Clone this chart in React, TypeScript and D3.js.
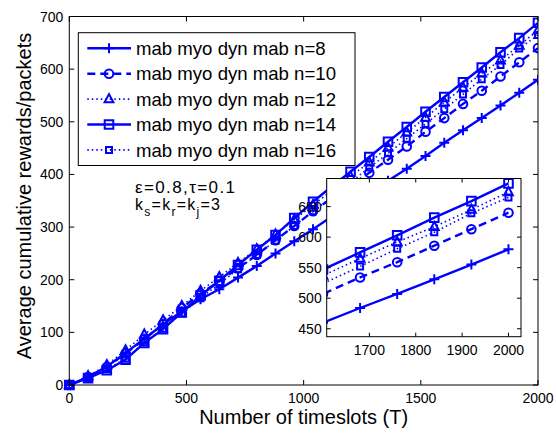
import React, { useEffect, useRef } from 'react';
import * as d3 from 'd3';

// Timeslots at which each curve is sampled / marked
const timeslots = [0, 80, 160, 240, 320, 400, 480, 560, 640, 720, 800, 880, 960, 1040, 1120, 1200, 1280, 1360, 1440, 1520, 1600, 1680, 1760, 1840, 1920, 2000];

// Average cumulative rewards for each number of channels n
const rewardsN8 = [0, 15, 35, 61, 88, 115, 140, 163, 182, 204, 226, 250, 273, 296, 320, 343, 366, 388, 411, 435, 460, 484, 507, 531, 555, 580];
const rewardsN10 = [0, 15, 34, 60, 87, 116, 146, 174, 197, 222, 247, 275, 302, 330, 355, 379, 403, 428, 453, 481, 507, 534, 559, 586, 613, 640];
const rewardsN12 = [0, 17, 38, 66, 96, 123, 150, 179, 205, 232, 258, 286, 314, 342, 369, 396, 423, 451, 480, 508, 537, 565, 592, 617, 645, 674];
const rewardsN14 = [0, 13, 28, 48, 80, 106, 138, 170, 198, 228, 257, 285, 317, 348, 377, 405, 433, 462, 490, 519, 547, 575, 603, 632, 659, 688];
const rewardsN16 = [0, 14, 30, 50, 81, 107, 136, 165, 192, 220, 247, 274, 302, 330, 357, 385, 413, 440, 468, 496, 524, 552, 581, 608, 639, 665];

const legendLabels = [
  'mab myo dyn mab n=8',
  'mab myo dyn mab n=10',
  'mab myo dyn mab n=12',
  'mab myo dyn mab n=14',
  'mab myo dyn mab n=16',
];

const xTicks = [0, 500, 1000, 1500, 2000];
const yTicks = [0, 100, 200, 300, 400, 500, 600, 700];
const insetXTicks = [1700, 1800, 1900, 2000];
const insetYTicks = [450, 500, 550, 600, 650];

const BLUE = '#0000ff';
const FONT = '"Liberation Sans", Arial, Helvetica, sans-serif';

type MarkerKind = 'plus' | 'circle' | 'triangle' | 'square' | 'smallsquare';

const styles: { values: number[]; dash: string | null; width: number; marker: MarkerKind }[] = [
  { values: rewardsN8, dash: null, width: 2.4, marker: 'plus' },
  { values: rewardsN10, dash: '8,5', width: 2.4, marker: 'circle' },
  { values: rewardsN12, dash: '1.5,3', width: 1.6, marker: 'triangle' },
  { values: rewardsN14, dash: null, width: 2.4, marker: 'square' },
  { values: rewardsN16, dash: '1.5,3', width: 1.6, marker: 'smallsquare' },
];

function markerPath(kind: MarkerKind): string {
  switch (kind) {
    case 'plus':
      return 'M-5,0L5,0M0,-5L0,5';
    case 'circle':
      return 'M4.3,0A4.3,4.3 0 1,1 -4.3,0A4.3,4.3 0 1,1 4.3,0Z';
    case 'triangle':
      return 'M0,-5L4.4,3.2L-4.4,3.2Z';
    case 'square':
      return 'M-4.3,-4.3L4.3,-4.3L4.3,4.3L-4.3,4.3Z';
    case 'smallsquare':
      return 'M-3,-3L3,-3L3,3L-3,3Z';
  }
}

type Sel = d3.Selection<SVGGElement, unknown, null, undefined>;

function drawSeries(g: Sel, x: d3.ScaleLinear<number, number>, y: d3.ScaleLinear<number, number>, lineClip: string, markClip: string) {
  const line = d3
    .line<number>()
    .x((_, i) => x(timeslots[i]))
    .y((d) => y(d));
  const lines = g.append('g').attr('clip-path', `url(#${lineClip})`);
  const marks = g.append('g').attr('clip-path', `url(#${markClip})`);
  styles.forEach((s) => {
    lines
      .append('path')
      .attr('d', line(s.values))
      .attr('fill', 'none')
      .attr('stroke', BLUE)
      .attr('stroke-width', s.width)
      .attr('stroke-dasharray', s.dash)
      .attr('stroke-linejoin', 'round');
  });
  styles.forEach((s) => {
    marks
      .selectAll(null)
      .data(s.values)
      .enter()
      .append('path')
      .attr('transform', (d, i) => `translate(${x(timeslots[i])},${y(d)})`)
      .attr('d', markerPath(s.marker))
      .attr('fill', 'none')
      .attr('stroke', BLUE)
      .attr('stroke-width', 2);
  });
}

function drawAxesBox(
  g: Sel,
  x: d3.ScaleLinear<number, number>,
  y: d3.ScaleLinear<number, number>,
  xt: number[],
  yt: number[],
  tickLen: number,
  fontSize: number,
  xLabelGap: number,
  yLabelGap: number
) {
  const [x0, x1] = x.range();
  const [y0, y1] = y.range();
  g.append('rect')
    .attr('x', x0)
    .attr('y', y1)
    .attr('width', x1 - x0)
    .attr('height', y0 - y1)
    .attr('fill', 'none')
    .attr('stroke', '#000')
    .attr('stroke-width', 1);
  xt.forEach((t) => {
    const px = x(t);
    g.append('line').attr('x1', px).attr('x2', px).attr('y1', y0).attr('y2', y0 - tickLen).attr('stroke', '#000');
    g.append('line').attr('x1', px).attr('x2', px).attr('y1', y1).attr('y2', y1 + tickLen).attr('stroke', '#000');
    g.append('text')
      .attr('x', px)
      .attr('y', y0 + xLabelGap)
      .attr('text-anchor', 'middle')
      .attr('font-family', FONT)
      .attr('font-size', fontSize)
      .text(String(t));
  });
  yt.forEach((t) => {
    const py = y(t);
    g.append('line').attr('x1', x0).attr('x2', x0 + tickLen).attr('y1', py).attr('y2', py).attr('stroke', '#000');
    g.append('line').attr('x1', x1).attr('x2', x1 - tickLen).attr('y1', py).attr('y2', py).attr('stroke', '#000');
    g.append('text')
      .attr('x', x0 - yLabelGap)
      .attr('y', py + fontSize * 0.36)
      .attr('text-anchor', 'end')
      .attr('font-family', FONT)
      .attr('font-size', fontSize)
      .text(String(t));
  });
}

export default function App() {
  const ref = useRef<SVGSVGElement | null>(null);

  useEffect(() => {
    const svg = d3.select(ref.current);
    svg.selectAll('*').remove();
    const root = svg.append('g') as unknown as Sel;

    const x = d3.scaleLinear().domain([0, 2000]).range([69.3, 538]);
    const y = d3.scaleLinear().domain([0, 700]).range([385, 16.5]);

    const defs = svg.append('defs');
    defs.append('clipPath').attr('id', 'mainLineClip').append('rect').attr('x', 69.3).attr('y', 16.5).attr('width', 538 - 69.3).attr('height', 385 - 16.5);
    defs.append('clipPath').attr('id', 'mainMarkClip').append('rect').attr('x', 40).attr('y', 0).attr('width', 538 - 40).attr('height', 410);

    // Main axes
    drawSeries(root, x, y, 'mainLineClip', 'mainMarkClip');
    drawAxesBox(root, x, y, xTicks, yTicks, 5, 14, 17.5, 6);

    root.append('text')
      .attr('x', (69.3 + 538) / 2)
      .attr('y', 424)
      .attr('text-anchor', 'middle')
      .attr('font-family', FONT)
      .attr('font-size', 20)
      .text('Number of timeslots (T)');
    root.append('text')
      .attr('transform', 'translate(30.5,196) rotate(-90)')
      .attr('text-anchor', 'middle')
      .attr('font-family', FONT)
      .attr('font-size', 20)
      .text('Average cumulative rewards/packets');

    // Legend
    const lg = root.append('g');
    lg.append('rect')
      .attr('x', 78.3)
      .attr('y', 32.7)
      .attr('width', 355 - 78.3)
      .attr('height', 165.5 - 32.7)
      .attr('fill', '#fff')
      .attr('stroke', '#000');
    styles.forEach((s, i) => {
      const cy = 48.3 + i * 25.4;
      lg.append('line')
        .attr('x1', 87.3)
        .attr('x2', 131)
        .attr('y1', cy)
        .attr('y2', cy)
        .attr('stroke', BLUE)
        .attr('stroke-width', s.width)
        .attr('stroke-dasharray', s.dash);
      lg.append('path')
        .attr('transform', `translate(109,${cy})`)
        .attr('d', markerPath(s.marker))
        .attr('fill', 'none')
        .attr('stroke', BLUE)
        .attr('stroke-width', 2);
      lg.append('text')
        .attr('x', 136)
        .attr('y', cy + 6.6)
        .attr('font-family', FONT)
        .attr('font-size', 18.6)
        .text(legendLabels[i]);
    });

    // Parameter annotation
    root.append('text')
      .attr('x', 135)
      .attr('y', 192.5)
      .attr('font-family', FONT)
      .attr('font-size', 17)
      .attr('textLength', 100)
      .attr('lengthAdjust', 'spacing')
      .text('\u03b5=0.8,\u03c4=0.1');
    const k = root
      .append('text')
      .attr('x', 135)
      .attr('y', 209.5)
      .attr('font-family', FONT)
      .attr('font-size', 16)
      .attr('textLength', 85)
      .attr('lengthAdjust', 'spacing');
    k.append('tspan').text('k');
    k.append('tspan').attr('dy', 6).attr('font-size', 12).text('s');
    k.append('tspan').attr('dy', -6).text('=k');
    k.append('tspan').attr('dy', 6).attr('font-size', 12).text('r');
    k.append('tspan').attr('dy', -6).text('=k');
    k.append('tspan').attr('dy', 6).attr('font-size', 12).text('j');
    k.append('tspan').attr('dy', -6).text('=3');

    // Inset zoom of the final timeslots
    const ix = d3.scaleLinear().domain([1608, 2027]).range([326.7, 521]);
    const iy = d3.scaleLinear().domain([437, 696]).range([336.7, 178.5]);
    defs.append('clipPath').attr('id', 'insetClip').append('rect').attr('x', 326.7).attr('y', 178.5).attr('width', 521 - 326.7).attr('height', 336.7 - 178.5);
    const ig = root.append('g');
    ig.append('rect')
      .attr('x', 326.7)
      .attr('y', 178.5)
      .attr('width', 521 - 326.7)
      .attr('height', 336.7 - 178.5)
      .attr('fill', '#fff');
    drawSeries(ig, ix, iy, 'insetClip', 'insetClip');
    drawAxesBox(ig, ix, iy, insetXTicks, insetYTicks, 4, 14, 18.5, 5);
  }, []);

  return (
    <svg
      ref={ref}
      width={556}
      height={434}
      style={{ position: 'absolute', left: 0, top: 0, background: '#fff' }}
    />
  );
}
